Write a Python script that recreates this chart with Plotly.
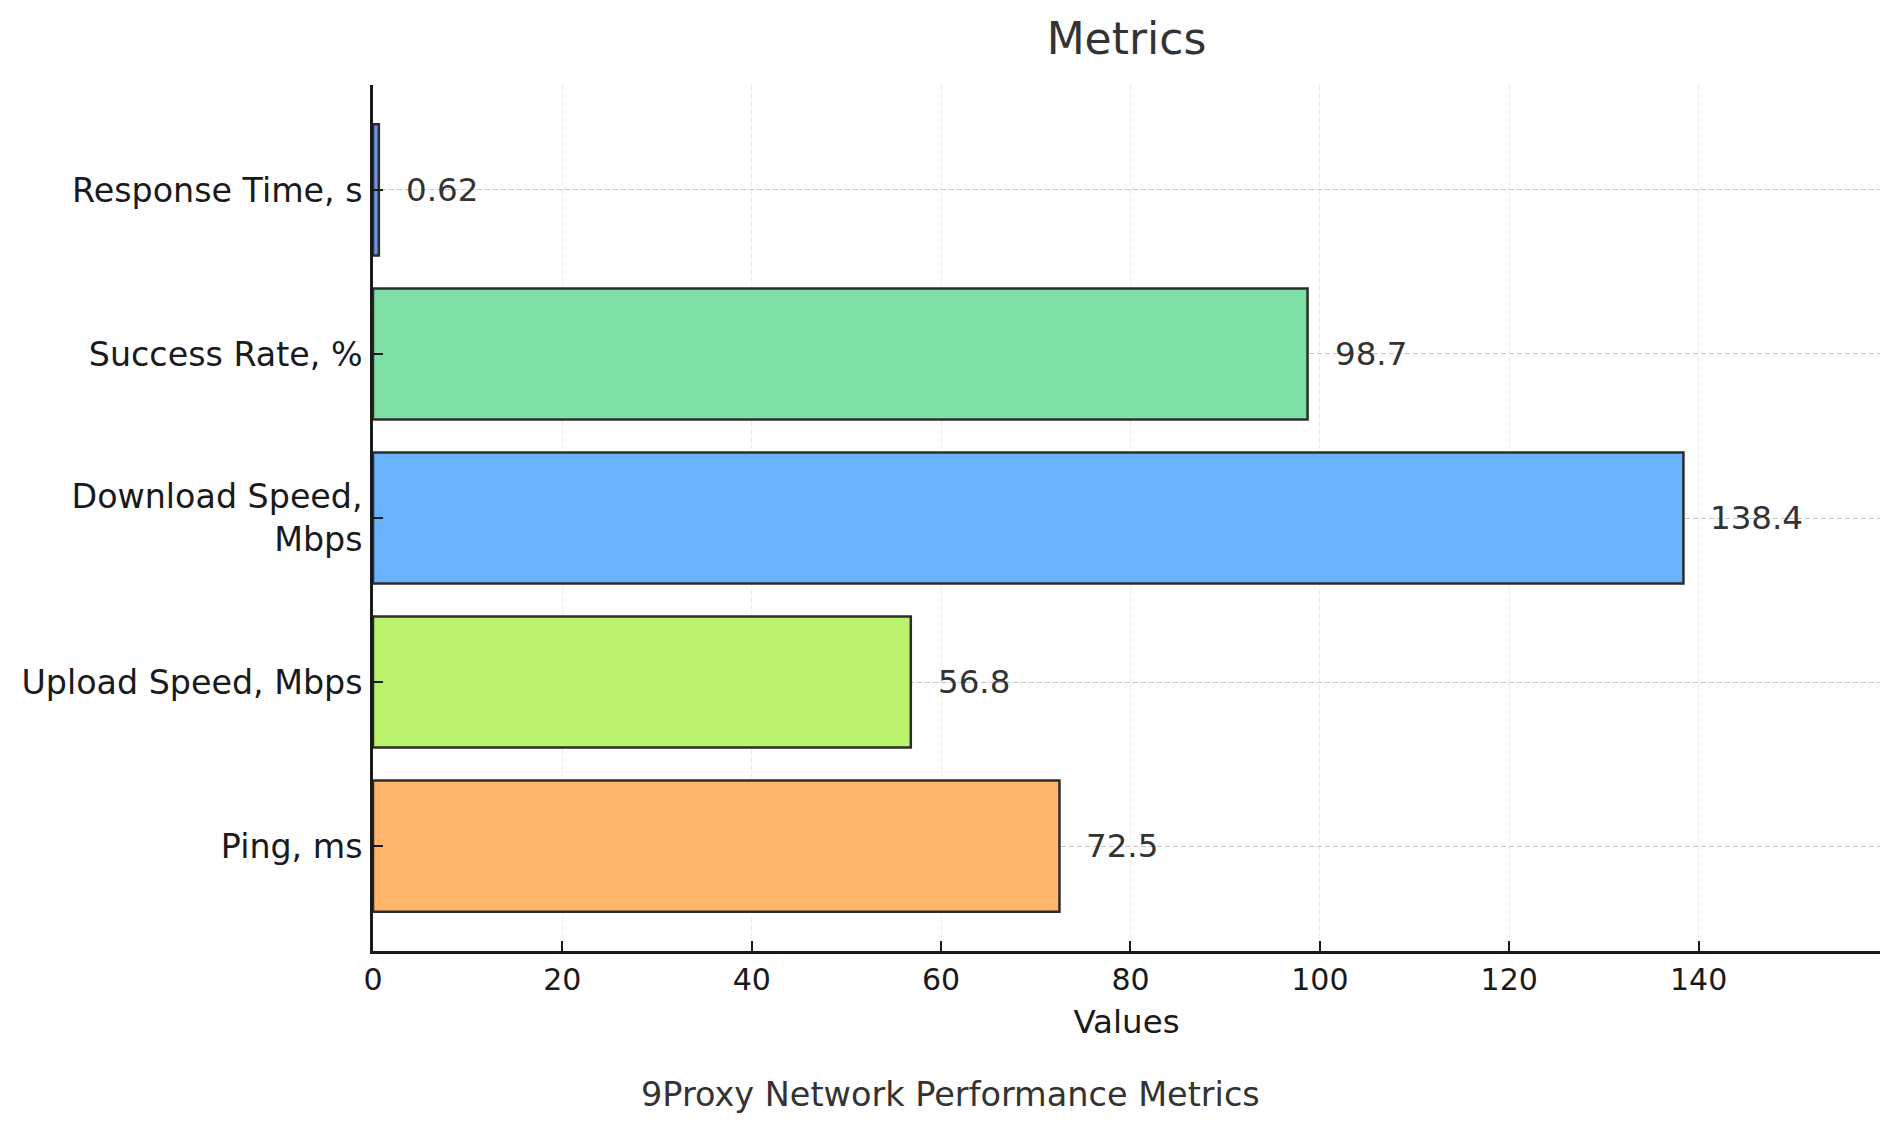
import plotly.graph_objects as go

categories = ["Ping, ms", "Upload Speed, Mbps", "Download Speed,<br>Mbps", "Success Rate, %", "Response Time, s"]
values = [72.5, 56.8, 138.4, 98.7, 0.62]
value_labels = ["72.5", "56.8", "138.4", "98.7", "0.62"]
colors = ["#ffb56b", "#b9f26b", "#69b3fc", "#7ee0a5", "#6a92e6"]
x_ticks = [0, 20, 40, 60, 80, 100, 120, 140]

FONT = "DejaVu Sans"

fig = go.Figure()
fig.add_trace(go.Bar(
    x=values, y=categories, orientation="h",
    marker=dict(color=colors, line=dict(color="#2d2d2d", width=2.5)),
    width=0.8, showlegend=False, hoverinfo="skip",
))

for v, c, t in zip(values, categories, value_labels):
    fig.add_annotation(x=v, y=c, text=t, xref="x", yref="y",
                       xanchor="left", yanchor="middle", xshift=25, showarrow=False,
                       font=dict(family=FONT, size=32.5, color="#333333"))

fig.add_annotation(text="9Proxy Network Performance Metrics", xref="paper", yref="paper",
                   x=(950 - 372) / 1508, y=(951 - 1094) / 864.5, xanchor="center", yanchor="middle",
                   showarrow=False, font=dict(family=FONT, size=33.5, color="#333333"))

fig.update_layout(
    width=1892, height=1124,
    margin=dict(l=365, r=20, t=77, b=181),
    paper_bgcolor="white", plot_bgcolor="white",
    font=dict(family=FONT, color="#1a1a1a"),
    title=dict(text="Metrics", x=0.5, xref="paper", y=1 - 31 / 1124, yref="container",
               xanchor="center", yanchor="middle",
               font=dict(family=FONT, size=44, color="#333333")),
    bargap=0.2,
)
fig.update_xaxes(
    range=[0, 138.4 * 1.15], tickvals=x_ticks, ticktext=[str(t) for t in x_ticks],
    showline=True, linecolor="#1a1a1a", linewidth=2.5,
    ticks="inside", ticklen=10, tickwidth=1.5, tickcolor="#1a1a1a",
    tickfont=dict(family=FONT, size=30, color="#1a1a1a"),
    showgrid=True, gridcolor="#ebebeb", gridwidth=1, griddash="5px,3px",
    zeroline=False,
    title=dict(text="Values", font=dict(family=FONT, size=32.5, color="#1a1a1a"), standoff=15),
)
fig.update_yaxes(
    type="category", categoryorder="array", categoryarray=categories,
    range=[-0.64, 4.64],
    showline=True, linecolor="#1a1a1a", linewidth=2.5,
    ticks="inside", ticklen=10, tickwidth=1.5, tickcolor="#1a1a1a",
    tickfont=dict(family=FONT, size=33.3, color="#1a1a1a"),
    ticklabelstandoff=1,
    showgrid=True, gridcolor="#c4c4c4", gridwidth=1.2, griddash="5px,3px",
    zeroline=False,
)

fig.write_html("out.html")
